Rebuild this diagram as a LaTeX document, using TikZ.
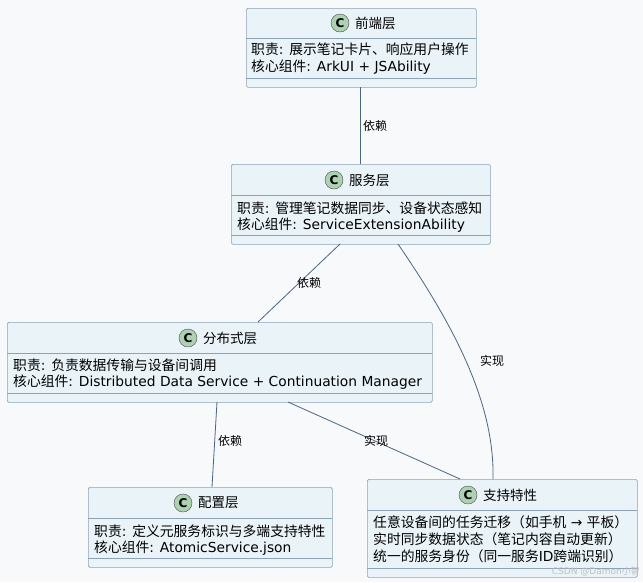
\documentclass[tikz,border=0pt]{standalone}
\usepackage{fontspec}
\setmainfont{DejaVu Sans}
\newfontfamily\cjk{Noto Sans CJK SC}
\newcommand{\zh}[1]{{\cjk #1}}
\usetikzlibrary{calc}
\definecolor{bg}{HTML}{F7F9FB}
\definecolor{boxfill}{HTML}{EAF4F8}
\definecolor{boxline}{HTML}{8DA2B4}
\definecolor{edge}{HTML}{4A6585}
\definecolor{cfill}{HTML}{ADD1B2}
\begin{document}
\begin{tikzpicture}[x=1pt,y=-1pt,
 box/.style={draw=boxline,fill=boxfill,rounded corners=1.5pt,line width=0.7pt,anchor=north west,inner sep=0pt},
 txt/.style={anchor=west,font=\fontsize{13.8}{15}\selectfont,inner sep=0pt},
 ttl/.style={anchor=west,font=\fontsize{13.5}{15}\selectfont,inner sep=0pt},
 ci/.style={circle,draw=black!70,fill=cfill,minimum size=18pt,inner sep=0pt,font=\fontsize{12}{12}\bfseries\selectfont},
 rel/.style={draw=edge,line width=0.8pt},
 lbl/.style={font=\fontsize{12}{13}\selectfont\cjk,inner sep=0pt}]
\fill[bg] (0,0) rectangle (643,582);
\useasboundingbox (0,0) rectangle (643,582);
% 1 前端层
\node[box,minimum width=230pt,minimum height=79pt] (b1) at (246,8) {};
\draw[boxline,line width=0.7pt] (246,38) -- (476,38) (246,78) -- (476,78);
\node[ci] (c1) at (340,23) {C};
\node[ttl] (t1) at (355,23) {\zh{前端层}};
\node[txt] (l1a) at (251,49) {\zh{职责}: \zh{展示笔记卡片、响应用户操作}};
\node[txt] (l1b) at (251,67) {\zh{核心组件}: ArkUI + JSAbility};
% 2 服务层
\node[box,minimum width=259pt,minimum height=80pt] (b2) at (231,164) {};
\draw[boxline,line width=0.7pt] (231,195) -- (490,195) (231,235) -- (490,235);
\node[ci] (c2) at (334,180) {C};
\node[ttl] (t2) at (349,180) {\zh{服务层}};
\node[txt] (l2a) at (237,208) {\zh{职责}: \zh{管理笔记数据同步、设备状态感知}};
\node[txt] (l2b) at (237,225) {\zh{核心组件}: ServiceExtensionAbility};
% 3 分布式层
\node[box,minimum width=425pt,minimum height=80pt] (b3) at (7,322) {};
\draw[boxline,line width=0.7pt] (7,353) -- (432,353) (7,393) -- (432,393);
\node[ci] (c3) at (188,338) {C};
\node[ttl] (t3) at (203,338) {\zh{分布式层}};
\node[txt] (l3a) at (13,365) {\zh{职责}: \zh{负责数据传输与设备间调用}};
\node[txt] (l3b) at (13,382) {\zh{核心组件}: Distributed Data Service + Continuation Manager};
% 4 配置层
\node[box,minimum width=244pt,minimum height=80pt] (b4) at (88,487) {};
\draw[boxline,line width=0.7pt] (88,518) -- (332,518) (88,558) -- (332,558);
\node[ci] (c4) at (183,503) {C};
\node[ttl] (t4) at (198,503) {\zh{配置层}};
\node[txt] (l4a) at (94,531) {\zh{职责}: \zh{定义元服务标识与多端支持特性}};
\node[txt] (l4b) at (94,548) {\zh{核心组件}: AtomicService.json};
% 5 支持特性
\node[box,minimum width=270pt,minimum height=98pt] (b5) at (367,479) {};
\draw[boxline,line width=0.7pt] (367,510) -- (637,510) (367,568) -- (637,568);
\node[ci] (c5) at (468,495) {C};
\node[ttl] (t5) at (483,495) {\zh{支持特性}};
\node[txt] (l5a) at (373,522) {\zh{任意设备间的任务迁移（如手机} → \zh{平板）}};
\node[txt] (l5b) at (373,539) {\zh{实时同步数据状态（笔记内容自动更新）}};
\node[txt] (l5c) at (373,556) {\zh{统一的服务身份（同一服务}ID\zh{跨端识别）}};
% connectors
\coordinate (p1s) at (360,87);
\coordinate (p2n) at (360,164);
\coordinate (p2a) at (340,244);
\coordinate (p3n) at (258,322);
\coordinate (p2b) at (398,244);
\coordinate (p5n) at (493,479);
\coordinate (p3a) at (217,402);
\coordinate (p4n) at (212,487);
\coordinate (p3b) at (288,402);
\coordinate (p5a) at (460,479);
\draw[rel] (p1s) -- (p2n);
\draw[rel] (p2a) -- (p3n);
\draw[rel] (p2b) .. controls (450,320) and (495,400) .. (p5n);
\draw[rel] (p3a) -- (p4n);
\draw[rel] (p3b) -- (p5a);
\node[lbl] (e1) at (375,126) {依赖};
\node[lbl] (e2) at (309,283) {依赖};
\node[lbl] (e3) at (492,361) {实现};
\node[lbl] (e4) at (230,441) {依赖};
\node[lbl] (e5) at (376,441) {实现};
\node[anchor=east,font=\fontsize{9}{10}\selectfont,text=black!25,inner sep=0pt] (wm) at (640,571) {CSDN @Damon\zh{小智}};
\end{tikzpicture}
\end{document}
